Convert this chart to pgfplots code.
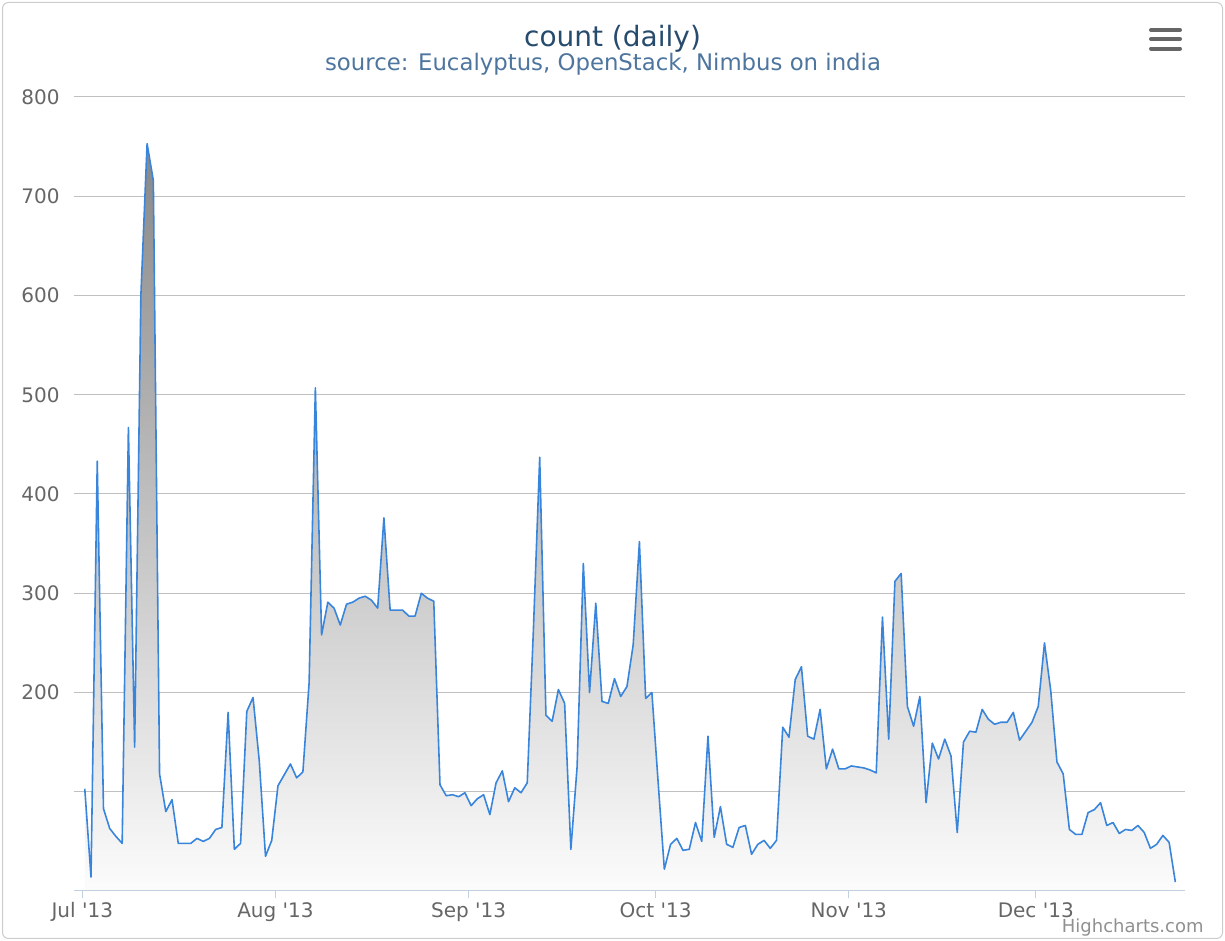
\documentclass[border=0pt]{standalone}
\usepackage{fontspec}
\setmainfont{DejaVu Sans}
\usepackage{pgfplots}
\pgfplotsset{compat=1.18}
\usepackage{pgfplotstable}

\definecolor{titlecol}{HTML}{274B6D}
\definecolor{subcol}{HTML}{4D759E}
\definecolor{labcol}{HTML}{666666}
\definecolor{gridcol}{HTML}{C0C0C0}
\definecolor{axiscol}{HTML}{C0D0E0}
\definecolor{linecol}{HTML}{3A85DC}
\definecolor{filltop}{HTML}{878787}
\definecolor{fillbot}{HTML}{FCFCFC}
\definecolor{creditcol}{HTML}{909090}
\definecolor{framecol}{HTML}{CCCCCC}
\definecolor{menucol}{HTML}{666666}

% daily counts, d = days since 1 Jul 2013
\pgfplotstableread{
d v
0 103
1 14
2 433
3 83
4 63
5 55
6 48
7 467
8 145
9 600
10 753
11 716
12 118
13 80
14 92
15 48
16 48
17 48
18 53
19 50
20 53
21 62
22 64
23 180
24 42
25 48
26 181
27 195
28 131
29 35
30 51
31 106
32 117
33 128
34 114
35 120
36 210
37 507
38 258
39 291
40 285
41 268
42 289
43 291
44 295
45 297
46 293
47 285
48 376
49 283
50 283
51 283
52 277
53 277
54 300
55 295
56 292
57 107
58 96
59 97
60 95
61 99
62 86
63 93
64 97
65 77
66 109
67 121
68 90
69 104
70 99
71 109
72 265
73 437
74 177
75 171
76 203
77 189
78 42
79 125
80 330
81 200
82 290
83 191
84 189
85 214
86 196
87 206
88 248
89 352
90 194
91 200
92 110
93 22
94 47
95 53
96 41
97 42
98 69
99 50
100 156
101 54
102 85
103 47
104 44
105 64
106 66
107 37
108 47
109 51
110 43
111 51
112 165
113 155
114 213
115 226
116 156
117 153
118 183
119 123
120 143
121 123
122 123
123 126
124 125
125 124
126 122
127 119
128 276
129 153
130 312
131 320
132 186
133 166
134 196
135 89
136 149
137 133
138 153
139 136
140 59
141 150
142 161
143 160
144 183
145 173
146 168
147 170
148 170
149 180
150 152
151 161
152 170
153 186
154 250
155 202
156 130
157 118
158 62
159 57
160 57
161 79
162 82
163 89
164 66
165 69
166 58
167 62
168 61
169 66
170 59
171 43
172 47
173 56
174 49
175 9
}\counts

\begin{document}
\begin{tikzpicture}
% 1 px of the reference = 0.5pt
\path[use as bounding box] (0,0) rectangle (612.5pt,470.5pt);
\draw[framecol, line width=0.5pt, rounded corners=3pt] (1.25pt,1.25pt) rectangle (611.25pt,469.25pt);

\begin{axis}[
    at={(37pt,25pt)}, anchor=south west,
    scale only axis,
    width=555.5pt, height=397pt,
    xmin=-1.73, xmax=176.55,
    ymin=0, ymax=800,
    axis line style={draw=none},
    xtick pos=bottom,
    xtick={-0.4,30.6,61.6,91.6,122.6,152.6},
    xticklabels={Jul \textquotesingle 13,Aug \textquotesingle 13,Sep \textquotesingle 13,Oct \textquotesingle 13,Nov \textquotesingle 13,Dec \textquotesingle 13},
    ytick={100,200,...,800},
    yticklabels={,200,300,400,500,600,700,800},
    ymajorgrids,
    grid style={draw=gridcol, line width=0.5pt},
    tick align=outside,
    major tick length=3.5pt,
    xtick style={draw=axiscol, line width=0.5pt},
    ytick style={draw=none},
    /pgf/number format/assume math mode=true,
    ticklabel style={font=\fontsize{10}{12}\selectfont, text=labcol},
    xticklabel style={anchor=north, inner sep=0pt, yshift=-2pt},
    yticklabel style={anchor=east, inner sep=0pt, xshift=-3.5pt},
    clip=false,
]
\addplot[draw=none, top color=filltop, bottom color=fillbot] table[x=d, y=v] {\counts} \closedcycle;
\addplot[linecol, line width=0.8pt, line join=round, no marks] table[x=d, y=v] {\counts};
\draw[axiscol, line width=0.5pt] (rel axis cs:0,0) -- (rel axis cs:1,0);
\end{axis}

\node[anchor=base, text=titlecol, font=\fontsize{14}{16}\selectfont] at (306.25pt,447pt) {count (daily)};
\node[anchor=base, text=subcol, font=\fontsize{11.4}{13}\selectfont] at (301.5pt,435pt) {source: Eucalyptus, OpenStack, Nimbus on india};
\node[anchor=base east, inner sep=0pt, text=creditcol, font=\fontsize{9}{10}\selectfont] at (602pt,4pt) {Highcharts.com};
\foreach \yy in {455.5pt,451pt,446.2pt}
  \draw[menucol, line width=2pt, line cap=round] (575.5pt,\yy) -- (590pt,\yy);
\end{tikzpicture}
\end{document}
